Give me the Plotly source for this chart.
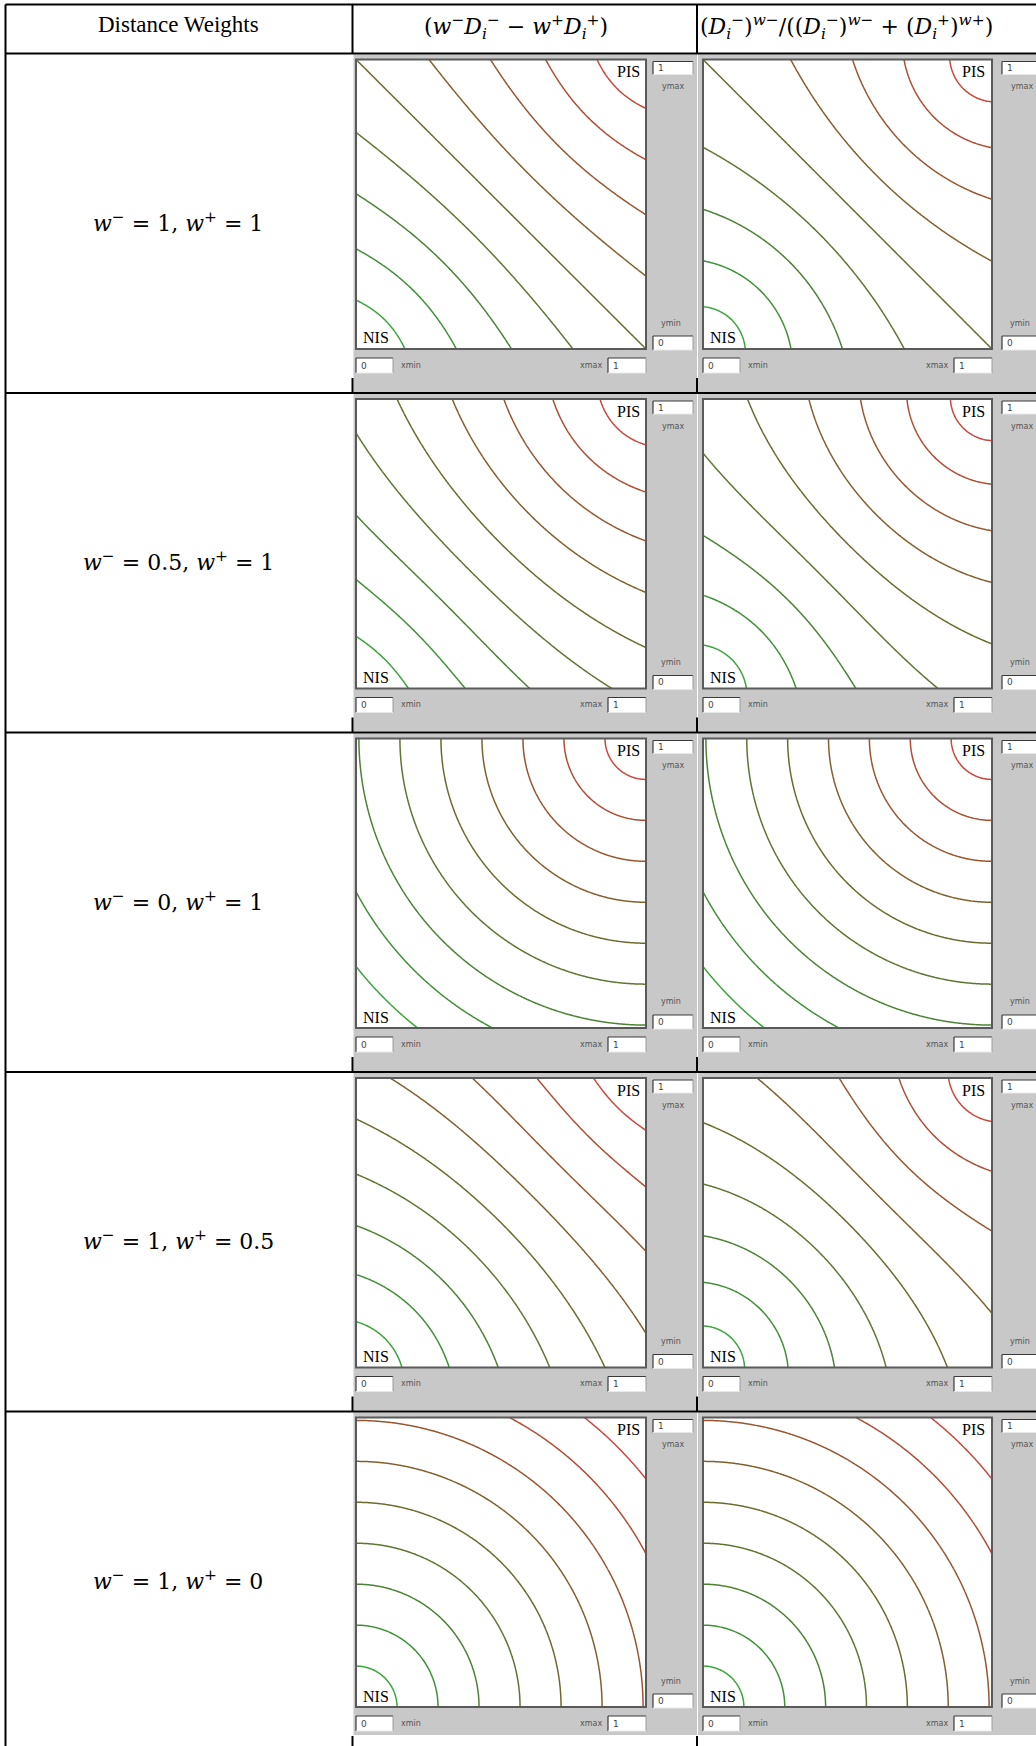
import numpy as np
import plotly.graph_objects as go

W, H = 1036, 1746

# ---------------- data ----------------
column_headers = [
    "Distance Weights",
    "(<i>w</i><sup>−</sup><i>D</i><sub><i>i</i></sub><sup>−</sup> − <i>w</i><sup>+</sup><i>D</i><sub><i>i</i></sub><sup>+</sup>)",
    "(<i>D</i><sub><i>i</i></sub><sup>−</sup>)<sup><i>w</i>−</sup>/((<i>D</i><sub><i>i</i></sub><sup>−</sup>)<sup><i>w</i>−</sup> + (<i>D</i><sub><i>i</i></sub><sup>+</sup>)<sup><i>w</i>+</sup>)",
]
w_minus = [1, 0.5, 0, 1, 1]
w_plus = [1, 1, 1, 0.5, 0]
row_labels = [
    "<i>w</i><sup>−</sup> = 1, <i>w</i><sup>+</sup> = 1",
    "<i>w</i><sup>−</sup> = 0.5, <i>w</i><sup>+</sup> = 1",
    "<i>w</i><sup>−</sup> = 0, <i>w</i><sup>+</sup> = 1",
    "<i>w</i><sup>−</sup> = 1, <i>w</i><sup>+</sup> = 0.5",
    "<i>w</i><sup>−</sup> = 1, <i>w</i><sup>+</sup> = 0",
]
# contour lines pass through these points (t, t) of the NIS -> PIS diagonal
level_positions = [0.1, 0.2, 0.3, 0.4, 0.5, 0.6, 0.7, 0.8, 0.9]
level_colors = ["#3aa53a", "#3f9136", "#4b8233", "#5d7630", "#6d6b2c",
                "#82602c", "#9a552e", "#b24c33", "#cc473c"]
box_values = {"xmin": "0", "xmax": "1", "ymin": "0", "ymax": "1"}


def d_minus(x, y):
    return np.sqrt(x ** 2 + y ** 2)


def d_plus(x, y):
    return np.sqrt((1 - x) ** 2 + (1 - y) ** 2)


def score_diff(x, y, wm, wp):
    return wm * d_minus(x, y) - wp * d_plus(x, y)


def score_ratio(x, y, wm, wp):
    a = np.power(d_minus(x, y), wm)
    b = np.power(d_plus(x, y), wp)
    return a / (a + b)


scores = [score_diff, score_ratio]

grid = np.linspace(0, 1, 241)
GX, GY = np.meshgrid(grid, grid)

# ---------------- geometry (pixels) ----------------
left_border = 5.5
col_borders = [352.5, 697]
header_top = 4.5
row_borders = [53.5, 393, 732.5, 1072, 1411.5]
row_pitch = 339.5
plot_lr = [(356, 646), (703, 992)]
GRAY = "#c8c8c8"
SERIF = "Liberation Serif, Times New Roman, serif"
MATH = "DejaVu Serif, serif"
SMALL = "DejaVu Sans, sans-serif"


def px(v):
    return v / W


def py(v):
    return 1 - v / H


fig = go.Figure()
shapes = []
annotations = []


def rect(x0, y0, x1, y1, fill, line=None, lw=0, layer="above"):
    shapes.append(dict(type="rect", xref="paper", yref="paper",
                       x0=px(x0), x1=px(x1), y0=py(y1), y1=py(y0),
                       fillcolor=fill, line=dict(width=lw, color=line or fill),
                       layer=layer))


def line(x0, y0, x1, y1, color="black", width=2, layer="above"):
    shapes.append(dict(type="line", xref="paper", yref="paper",
                       x0=px(x0), x1=px(x1), y0=py(y0), y1=py(y1),
                       line=dict(color=color, width=width), layer=layer))


def text(x, y, s, size, family=SERIF, color="black", xanchor="center", yanchor="middle"):
    annotations.append(dict(x=px(x), y=py(y), xref="paper", yref="paper", text=s,
                            showarrow=False, xanchor=xanchor, yanchor=yanchor,
                            font=dict(size=size, family=family, color=color)))


def inbox(x0, y0, x1, y1, val):
    rect(x0, y0, x1, y1, "white")
    line(x0, y0, x1, y0, "#3a3a3a", 1.2)
    line(x0, y0, x0, y1, "#3a3a3a", 1.2)
    line(x1, y0, x1, y1, "#9a9a9a", 1)
    line(x0, y1, x1, y1, "#e8e8e8", 1)
    text(x0 + 3, (y0 + y1) / 2, val, 9, SMALL, "#444", xanchor="left")


axis_i = 0
for r in range(5):
    top = row_borders[r]
    bottom = top + row_pitch
    ptop = top + 6
    pbot = ptop + 289.5
    last = (r == 4)
    gray_bottom = 1735 if last else bottom - 1
    for c in range(2):
        L, R = plot_lr[c]
        cx0 = col_borders[c] + 1
        cx1 = col_borders[1] if c == 0 else W + 2
        rect(cx0, top + 1, cx1, gray_bottom, GRAY, layer="below")
        rect(L, ptop, R, pbot, "white", layer="below")

        axis_i += 1
        xa = "x" if axis_i == 1 else f"x{axis_i}"
        ya = "y" if axis_i == 1 else f"y{axis_i}"
        xl = "xaxis" if axis_i == 1 else f"xaxis{axis_i}"
        yl = "yaxis" if axis_i == 1 else f"yaxis{axis_i}"
        fig.update_layout(**{
            xl: dict(domain=[px(L), px(R)], range=[0, 1], visible=False, anchor=ya),
            yl: dict(domain=[py(pbot), py(ptop)], range=[0, 1], visible=False, anchor=xa),
        })
        f = scores[c]
        Z = f(GX, GY, w_minus[r], w_plus[r])
        for t, col in zip(level_positions, level_colors):
            lv = float(f(np.array(t), np.array(t), w_minus[r], w_plus[r]))
            fig.add_trace(go.Contour(
                x=grid, y=grid, z=Z, xaxis=xa, yaxis=ya,
                autocontour=False,
                contours=dict(start=lv, end=lv, size=1, coloring="none"),
                line=dict(color=col, width=1.5, smoothing=1),
                showscale=False, hoverinfo="skip"))

        # plot frame
        rect(L, ptop, R, pbot, "rgba(0,0,0,0)", "#5a5a5a", 2)
        # labels
        text(R - 4 if c == 0 else R - 5, ptop + 12, "PIS", 16, xanchor="right")
        text(L + 5, pbot - 11, "NIS", 16, xanchor="left")
        # side bar (right)
        sb = R + 7 if c == 0 else R + 10
        inbox(sb, ptop + 2, sb + 40, ptop + 15, box_values["ymax"])
        text(sb + 20, ptop + 27, "ymax", 8, SMALL, "#555")
        text(sb + 18, pbot - 26, "ymin", 8, SMALL, "#555")
        inbox(sb, pbot - 13, sb + 40, pbot + 1, box_values["ymin"])
        # bottom bar
        inbox(L, pbot + 9, L + 37, pbot + 24, box_values["xmin"])
        text(L + 55, pbot + 16, "xmin", 8, SMALL, "#555")
        text(R - 55, pbot + 16, "xmax", 8, SMALL, "#555")
        inbox(R - 38, pbot + 9, R, pbot + 24, box_values["xmax"])

    # row label
    text(178, top + 168, row_labels[r], 22, MATH)
    # visible cell border segments below the screenshots
    for xb in col_borders:
        line(xb, bottom - 15, xb, min(bottom, H), "black", 2)

# table borders
line(left_border, header_top, W + 2, header_top, "black", 2)
for yb in row_borders:
    line(left_border, yb, W + 2, yb, "black", 2)
line(left_border, header_top, left_border, H + 2, "black", 2)
for xb in col_borders:
    line(xb, header_top, xb, row_borders[0], "black", 2)

# header texts
text(178, 25, column_headers[0], 23)
text(516, 27, column_headers[1], 22, MATH)
text(846, 27, column_headers[2], 22, MATH)

fig.update_layout(
    width=W, height=H, margin=dict(l=0, r=0, t=0, b=0),
    paper_bgcolor="white", plot_bgcolor="rgba(0,0,0,0)",
    showlegend=False, shapes=shapes, annotations=annotations,
)
fig.write_html("out.html")
